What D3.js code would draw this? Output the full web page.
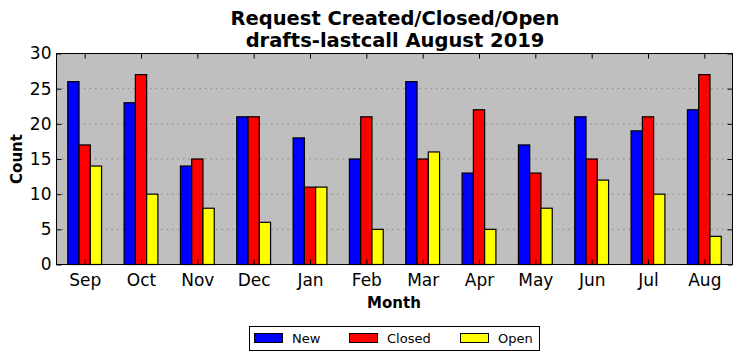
<!DOCTYPE html>
<html><head><meta charset="utf-8">
<script src="https://cdn.jsdelivr.net/npm/d3@7"></script>
<style>body{margin:0;background:#fff}svg{display:block}text{font-family:"DejaVu Sans",sans-serif}</style>
</head><body><svg id="c" width="742" height="361"></svg>
<script>
const months = ["Sep","Oct","Nov","Dec","Jan","Feb","Mar","Apr","May","Jun","Jul","Aug"];
const newVals = [26,23,14,21,18,15,26,13,17,21,19,22];
const closedVals = [17,27,15,21,11,21,15,22,13,15,21,27];
const openVals = [14,10,8,6,11,5,16,5,8,12,10,4];
const yTicks = [0,5,10,15,20,25,30];
const seriesNames = ["New","Closed","Open"];
const colors = ["#0000ff","#ff0000","#ffff00"];
const series = [newVals, closedVals, openVals];

const svg = d3.select("#c");
const L=56.5, R=732.5, T=53.5, B=264.5;
const x = d3.scaleLinear().domain([-0.5,11.5]).range([L,R]);
const y = d3.scaleLinear().domain([0,30]).range([B,T]);
const bw = 0.2;

svg.append("rect").attr("x",L).attr("y",T).attr("width",R-L).attr("height",B-T).attr("fill","#bfbfbf");
svg.append("g").selectAll("line").data(yTicks.filter(d=>d>0&&d<30)).join("line")
 .attr("x1",L).attr("x2",R).attr("y1",d=>y(d)).attr("y2",d=>y(d))
 .attr("stroke","#8a8a8a").attr("stroke-width",1).attr("stroke-dasharray","1.5,4");

series.forEach((vals,si)=>{
  svg.append("g").selectAll("rect").data(vals).join("rect")
   .attr("x",(d,i)=>x(i+(si-1)*bw-bw/2))
   .attr("width",x(bw)-x(0))
   .attr("y",d=>y(d)).attr("height",d=>y(0)-y(d))
   .attr("fill",colors[si]).attr("stroke","#000").attr("stroke-width",1.2);
});

svg.append("rect").attr("x",L).attr("y",T).attr("width",R-L).attr("height",B-T).attr("fill","none").attr("stroke","#000").attr("stroke-width",1);

const xa = svg.append("g").attr("transform",`translate(0,${B})`)
 .call(d3.axisBottom(x).tickValues(d3.range(12)).tickFormat(i=>months[i]).tickSize(-5).tickPadding(9));
const ya = svg.append("g").attr("transform",`translate(${L},0)`)
 .call(d3.axisLeft(y).tickValues(yTicks).tickSize(-5).tickPadding(5));
[xa,ya].forEach(a=>{a.select(".domain").remove();a.selectAll("line").attr("stroke","#000");a.selectAll("text").attr("font-size",17).attr("fill","#000").style("font-family","DejaVu Sans");});
svg.append("g").attr("transform",`translate(0,${T})`).call(d3.axisTop(x).tickValues(d3.range(12)).tickFormat("").tickSize(-5))
 .call(g=>{g.select(".domain").remove();g.selectAll("line").attr("stroke","#000");});
svg.append("g").attr("transform",`translate(${R},0)`).call(d3.axisRight(y).tickValues(yTicks).tickFormat("").tickSize(-5))
 .call(g=>{g.select(".domain").remove();g.selectAll("line").attr("stroke","#000");});

svg.append("text").attr("x",395).attr("y",25).attr("text-anchor","middle").attr("font-size",19.5).attr("font-weight","bold").text("Request Created/Closed/Open");
svg.append("text").attr("x",395).attr("y",47).attr("text-anchor","middle").attr("font-size",19.5).attr("font-weight","bold").text("drafts-lastcall August 2019");
svg.append("text").attr("x",394).attr("y",308).attr("text-anchor","middle").attr("font-size",15).attr("font-weight","bold").text("Month");
svg.append("text").attr("transform",`translate(22,${(T+B)/2}) rotate(-90)`).attr("text-anchor","middle").attr("font-size",15).attr("font-weight","bold").text("Count");

const lg = svg.append("g");
lg.append("rect").attr("x",249.5).attr("y",326.5).attr("width",290).attr("height",24).attr("fill","#fff").attr("stroke","#000").attr("stroke-width",1);
const lx = [254,349,460];
seriesNames.forEach((n,i)=>{
  lg.append("rect").attr("x",lx[i]+0.5).attr("y",333.5).attr("width",28).attr("height",9).attr("fill",colors[i]).attr("stroke","#000");
  lg.append("text").attr("x",lx[i]+38).attr("y",343).attr("font-size",13).text(n);
});
</script></body></html>
